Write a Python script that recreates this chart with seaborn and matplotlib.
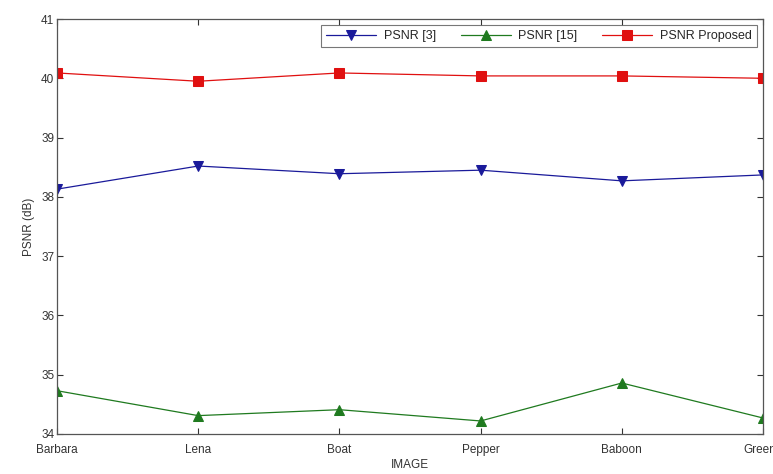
import matplotlib
matplotlib.use("Agg")
import matplotlib.pyplot as plt
import seaborn as sns
import numpy as np
import pandas as pd

sns.set_style("white")
plt.rcParams['font.family'] = ['Liberation Sans', 'DejaVu Sans']
plt.rcParams['font.size'] = 8

images = ['Barbara', 'Lena', 'Boat', 'Pepper', 'Baboon', 'Greens']
psnr_3 = [38.13, 38.52, 38.39, 38.45, 38.27, 38.37]
psnr_15 = [34.73, 34.31, 34.41, 34.22, 34.86, 34.27]
psnr_prop = [40.09, 39.95, 40.09, 40.04, 40.04, 40.00]

series_names = ['PSNR [3]', 'PSNR [15]', 'PSNR Proposed']
colors = ['#1a1a9a', '#1f7a1f', '#e01010']
markers = ['v', '^', 's']

rows = []
for name, vals in zip(series_names, [psnr_3, psnr_15, psnr_prop]):
    for i, v in enumerate(vals):
        rows.append({'idx': i, 'PSNR': v, 'series': name})
df = pd.DataFrame(rows)

fig = plt.figure(figsize=(7.73, 4.74), dpi=100)
ax = fig.add_axes([57/773, 1 - 434/474, (763 - 57)/773, (434 - 19)/474])

for name, c, m in zip(series_names, colors, markers):
    sub = df[df['series'] == name]
    sns.lineplot(data=sub, x='idx', y='PSNR', ax=ax, color=c, marker=m,
                 markersize=7, markeredgecolor=c, linewidth=0.9, label=name)

ax.set_xlim(0, len(images) - 1)
ax.set_ylim(34, 41)
ax.set_xticks(range(len(images)))
ax.set_xticklabels(images)
ax.set_yticks(range(34, 42))
ax.tick_params(direction='in', length=4, width=0.8, colors='#333333', labelsize=8.5,
               top=True, right=True, bottom=True, left=True)
ax.tick_params(axis='x', pad=7)
ax.tick_params(axis='y', pad=2)
ax.set_xlabel('IMAGE', fontsize=8.5, color='#333333', labelpad=2)
ax.set_ylabel('PSNR (dB)', fontsize=8.5, color='#333333')
for s in ax.spines.values():
    s.set_color('#555555')
    s.set_linewidth(0.9)

leg = ax.legend(loc='upper right', ncol=3, fontsize=9, frameon=True, fancybox=False,
                edgecolor='#555555', handlelength=4, columnspacing=2.0,
                borderaxespad=0.5, handletextpad=0.6)
leg.get_frame().set_linewidth(0.8)

fig.savefig('out.png', dpi=100)
